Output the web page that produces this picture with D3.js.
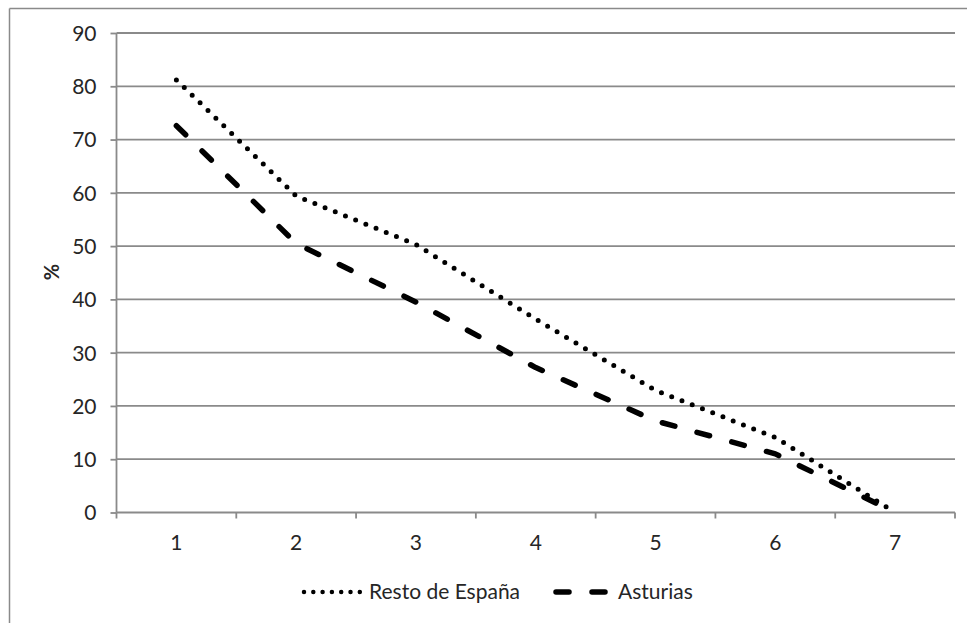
<!DOCTYPE html>
<html>
<head>
<meta charset="utf-8">
<script src="https://cdn.jsdelivr.net/npm/d3@7"></script>
<style>
  html, body { margin: 0; padding: 0; background: #fff; }
  svg { display: block; font-family: Lato, "Liberation Sans", sans-serif; }
</style>
</head>
<body>
<svg id="chart" width="967" height="623"></svg>
<script>
// ---- data ----
const categories = ["1", "2", "3", "4", "5", "6", "7"];
const restoEspana = [81.2, 59.4, 50.3, 36.3, 22.9, 14.1, 0];
const asturias = [72.6, 50.5, 39.5, 27.2, 17.2, 11.0, 0];
const yTicks = [0, 10, 20, 30, 40, 50, 60, 70, 80, 90];
const seriesNames = ["Resto de España", "Asturias"];
const yLabel = "%";

// ---- layout ----
const svg = d3.select("#chart");
const W = 967, H = 623;
const plot = { left: 116.5, right: 955, top: 33, bottom: 512.5 };
const gridColor = "#8a8a8a";
const textColor = "#262626";
const fontSize = 21;

// chart area border (top and left visible)
svg.append("line").attr("x1", 9.5).attr("x2", W).attr("y1", 8.5).attr("y2", 8.5)
  .attr("stroke", gridColor).attr("stroke-width", 1.5);
svg.append("line").attr("x1", 9.5).attr("x2", 9.5).attr("y1", 8.5).attr("y2", H)
  .attr("stroke", gridColor).attr("stroke-width", 1.5);

const x = d3.scaleBand().domain(categories).range([plot.left, plot.right]).padding(0);
const y = d3.scaleLinear().domain([0, 90]).range([plot.bottom, plot.top]);

// gridlines
svg.append("g").selectAll("line").data(yTicks.filter(d => d > 0)).join("line")
  .attr("x1", plot.left).attr("x2", plot.right)
  .attr("y1", d => y(d)).attr("y2", d => y(d))
  .attr("stroke", gridColor).attr("stroke-width", 1.8);

// y axis
const yAxis = svg.append("g").attr("transform", `translate(${plot.left},0)`)
  .call(d3.axisLeft(y).tickValues(yTicks).tickSize(6).tickPadding(14));
yAxis.select(".domain").attr("stroke", gridColor).attr("stroke-width", 1.8)
  .attr("d", `M0,${plot.top}V${plot.bottom}`);
yAxis.selectAll(".tick line").attr("stroke", gridColor).attr("stroke-width", 1.8);
yAxis.selectAll(".tick text").attr("font-size", fontSize).attr("fill", textColor)
  .attr("font-family", "Lato, 'Liberation Sans', sans-serif").attr("dy", "0.35em");

// x axis
const xAxis = svg.append("g").attr("transform", `translate(0,${plot.bottom})`)
  .call(d3.axisBottom(x).tickSize(0).tickPadding(23));
xAxis.select(".domain").remove();
xAxis.append("line").attr("x1", plot.left).attr("x2", plot.right)
  .attr("stroke", gridColor).attr("stroke-width", 1.8);
const bounds = categories.map(c => x(c)).concat([x(categories[categories.length - 1]) + x.bandwidth()]);
xAxis.selectAll("line.tk").data(bounds).join("line").attr("class", "tk")
  .attr("x1", d => d).attr("x2", d => d).attr("y1", 0).attr("y2", 6)
  .attr("stroke", gridColor).attr("stroke-width", 1.8);
xAxis.selectAll(".tick text").attr("font-size", fontSize).attr("fill", textColor)
  .attr("font-family", "Lato, 'Liberation Sans', sans-serif");

// y label
svg.append("text").attr("transform", "translate(59,272) rotate(-90)")
  .attr("text-anchor", "middle").attr("font-size", 20).attr("font-weight", "bold")
  .attr("fill", textColor).text(yLabel);

// lines
const cx = c => x(c) + x.bandwidth() / 2;
const line = d3.line().x((d, i) => cx(categories[i])).y(d => y(d));

const styles = [
  { width: 5, dash: "0,11" },
  { width: 5.5, dash: "13,23" }
];

[restoEspana, asturias].forEach((s, k) => {
  svg.append("path").datum(s).attr("d", line)
    .attr("fill", "none").attr("stroke", "#000")
    .attr("stroke-width", styles[k].width)
    .attr("stroke-dasharray", styles[k].dash)
    .attr("stroke-linecap", "round").attr("stroke-linejoin", "round");
});

// legend
const legendY = 592;
const legendItems = [
  { x1: 304, x2: 360, tx: 369 },
  { x1: 556, x2: 612, tx: 618 }
];
legendItems.forEach((it, k) => {
  svg.append("line").attr("x1", it.x1).attr("x2", it.x2)
    .attr("y1", legendY).attr("y2", legendY)
    .attr("stroke", "#000").attr("stroke-width", k === 0 ? 4.5 : styles[k].width)
    .attr("stroke-dasharray", k === 0 ? "0,9.3" : styles[k].dash)
    .attr("stroke-linecap", "round");
  svg.append("text").attr("x", it.tx).attr("y", legendY).attr("dy", "0.35em")
    .attr("font-size", fontSize).attr("fill", textColor).text(seriesNames[k]);
});
</script>
</body>
</html>
